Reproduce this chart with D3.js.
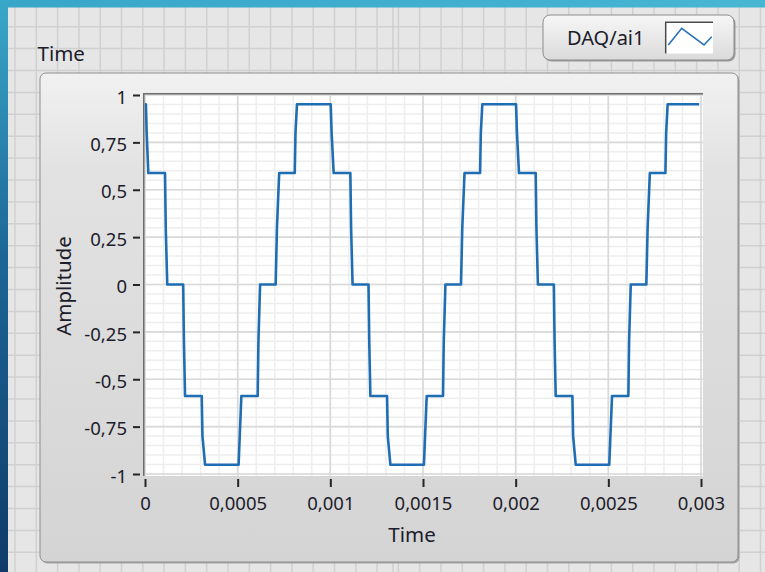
<!DOCTYPE html>
<html>
<head>
<meta charset="utf-8">
<script src="https://cdn.jsdelivr.net/npm/d3@7"></script>
<style>
  body { margin: 0; overflow: hidden; background: #e5e5e5; }
  svg { display: block; }
  text { font-family: "Noto Sans", sans-serif; fill: #1c1c2a; }
</style>
</head>
<body>
<svg width="765" height="572"></svg>
<script>
// waveform (seconds, volts)
const timeS = [
  0, 0.000005, 0.000009, 0.000018, 0.000108, 0.000112, 0.000120, 0.000206, 0.000210, 0.000216,
  0.000306, 0.000310, 0.000324, 0.000505, 0.000512, 0.000520, 0.000608, 0.000612, 0.000621, 0.000705,
  0.000712, 0.000724, 0.000808, 0.000812, 0.000820, 0.001002,
  0.001007, 0.001018, 0.001108, 0.001112, 0.001120, 0.001206, 0.001210, 0.001216, 0.001306, 0.001310,
  0.001324, 0.001505, 0.001512, 0.001520, 0.001608, 0.001612, 0.001621, 0.001705, 0.001712, 0.001724,
  0.001808, 0.001812, 0.001820, 0.002002,
  0.002007, 0.002018, 0.002108, 0.002112, 0.002120, 0.002206, 0.002210, 0.002216, 0.002306, 0.002310,
  0.002324, 0.002505, 0.002512, 0.002520, 0.002608, 0.002612, 0.002621, 0.002705, 0.002712, 0.002724,
  0.002808, 0.002812, 0.002820, 0.002990
];
const amplitude = [
  0.951, 0.951, 0.80, 0.588, 0.588, 0.30, 0, 0, -0.30, -0.588,
  -0.588, -0.80, -0.951, -0.951, -0.78, -0.588, -0.588, -0.30, 0, 0,
  0.30, 0.588, 0.588, 0.80, 0.951, 0.951,
  0.80, 0.588, 0.588, 0.30, 0, 0, -0.30, -0.588, -0.588, -0.80,
  -0.951, -0.951, -0.78, -0.588, -0.588, -0.30, 0, 0, 0.30, 0.588,
  0.588, 0.80, 0.951, 0.951,
  0.80, 0.588, 0.588, 0.30, 0, 0, -0.30, -0.588, -0.588, -0.80,
  -0.951, -0.951, -0.78, -0.588, -0.588, -0.30, 0, 0, 0.30, 0.588,
  0.588, 0.80, 0.951, 0.951
];

const xTicks = [0, 0.0005, 0.001, 0.0015, 0.002, 0.0025, 0.003];
const xTickLabels = ['0', '0,0005', '0,001', '0,0015', '0,002', '0,0025', '0,003'];
const yTicks = [1, 0.75, 0.5, 0.25, 0, -0.25, -0.5, -0.75, -1];
const yTickLabels = ['1', '0,75', '0,5', '0,25', '0', '-0,25', '-0,5', '-0,75', '-1'];

const graphLabel = 'Time';
const xTitle = 'Time';
const yTitle = 'Amplitude';
const plotName = 'DAQ/ai1';

const W = 765, H = 572;
const plot = {l: 143, t: 93, r: 703, b: 476};
const svg = d3.select('svg');
const defs = svg.append('defs');

const x = d3.scaleLinear().domain([0, 0.003]).range([145, 701]);
const y = d3.scaleLinear().domain([-1, 1]).range([474, 95]);

// ---- front panel background
svg.append('rect').attr('width', W).attr('height', H).attr('fill', '#e6e6e6');

const bg = svg.append('g').attr('stroke', '#d0d0d0').attr('stroke-width', 1.5);
d3.range(15, W, 21.3).forEach(px => {
  bg.append('line').attr('x1', px).attr('x2', px).attr('y1', 0).attr('y2', H);
});
d3.range(4.8, H, 21.9).forEach(py => {
  bg.append('line').attr('x1', 0).attr('x2', W).attr('y1', py).attr('y2', py);
});
svg.append('line').attr('x1', 393).attr('x2', 393).attr('y1', 0).attr('y2', H)
  .attr('stroke', '#c4c4c4').attr('stroke-width', 1);

// blue slide border
const gTop = defs.append('linearGradient').attr('id', 'gTop');
gTop.append('stop').attr('offset', 0).attr('stop-color', '#38a6c8');
gTop.append('stop').attr('offset', 1).attr('stop-color', '#47b6d3');
const gLeft = defs.append('linearGradient').attr('id', 'gLeft').attr('x2', 0).attr('y2', 1);
gLeft.append('stop').attr('offset', 0).attr('stop-color', '#3aa8c9');
gLeft.append('stop').attr('offset', 0.45).attr('stop-color', '#1c6696');
gLeft.append('stop').attr('offset', 1).attr('stop-color', '#0f3b68');
svg.append('rect').attr('width', W).attr('height', 7.5).attr('fill', 'url(#gTop)');
svg.append('rect').attr('width', 8).attr('height', H).attr('fill', 'url(#gLeft)');

// ---- graph label
svg.append('text').attr('x', 37.5).attr('y', 60.5).style('font-size', '20.5px').text(graphLabel);

// ---- legend
const gLeg = defs.append('linearGradient').attr('id', 'gLeg').attr('x2', 0).attr('y2', 1);
gLeg.append('stop').attr('offset', 0).attr('stop-color', '#f7f7f7');
gLeg.append('stop').attr('offset', 1).attr('stop-color', '#dadada');
svg.append('rect').attr('x', 544.5).attr('y', 16.5).attr('width', 191).attr('height', 45).attr('rx', 7)
  .attr('fill', '#9a9a9a');
svg.append('rect').attr('x', 543).attr('y', 15).attr('width', 191).attr('height', 45).attr('rx', 7)
  .attr('fill', 'url(#gLeg)').attr('stroke', '#8c8c8c');
svg.append('text').attr('x', 567).attr('y', 45).style('font-size', '20px').text(plotName);
svg.append('rect').attr('x', 665).attr('y', 21.5).attr('width', 48).attr('height', 32).attr('fill', '#fff');
svg.append('path').attr('d', 'M665.7,53.5V22.2H713').attr('fill', 'none')
  .attr('stroke', '#4a4a4a').attr('stroke-width', 1.5);
svg.append('path').attr('d', 'M668.3,45L681.7,28.3L704,45L711.7,36.7').attr('fill', 'none')
  .attr('stroke', '#2a72b8').attr('stroke-width', 1.6);

// ---- graph panel
const gPanel = defs.append('linearGradient').attr('id', 'gPanel').attr('x2', 0).attr('y2', 1);
gPanel.append('stop').attr('offset', 0).attr('stop-color', '#f1f1f1');
gPanel.append('stop').attr('offset', 0.2).attr('stop-color', '#e2e2e2');
gPanel.append('stop').attr('offset', 1).attr('stop-color', '#d4d4d4');
svg.append('rect').attr('x', 41.5).attr('y', 74.5).attr('width', 698).attr('height', 489).attr('rx', 6)
  .attr('fill', '#a6a6a6');
svg.append('rect').attr('x', 40).attr('y', 73).attr('width', 698).attr('height', 489).attr('rx', 6)
  .attr('fill', 'url(#gPanel)').attr('stroke', '#8e8e8e');

// ---- plot area
svg.append('rect').attr('x', plot.l).attr('y', plot.t)
  .attr('width', plot.r - plot.l).attr('height', plot.b - plot.t).attr('fill', '#fff');

const grid = svg.append('g');
grid.selectAll('.minx').data(x.ticks(30)).join('line')
  .attr('x1', d => x(d)).attr('x2', d => x(d)).attr('y1', plot.t).attr('y2', plot.b)
  .attr('stroke', '#eeeeee').attr('stroke-width', 1.5);
grid.selectAll('.miny').data(y.ticks(40)).join('line')
  .attr('y1', d => y(d)).attr('y2', d => y(d)).attr('x1', plot.l).attr('x2', plot.r)
  .attr('stroke', '#eeeeee').attr('stroke-width', 1.5);
grid.selectAll('.majx').data(xTicks).join('line')
  .attr('x1', d => x(d)).attr('x2', d => x(d)).attr('y1', plot.t).attr('y2', plot.b)
  .attr('stroke', '#d9d9d9').attr('stroke-width', 1.6);
grid.selectAll('.majy').data(yTicks).join('line')
  .attr('y1', d => y(d)).attr('y2', d => y(d)).attr('x1', plot.l).attr('x2', plot.r)
  .attr('stroke', '#d9d9d9').attr('stroke-width', 1.6);

// inset border
svg.append('path')
  .attr('d', `M${plot.l + 0.75},${plot.b}V${plot.t + 0.75}H${plot.r}`)
  .attr('fill', 'none').attr('stroke', '#6c6c6c').attr('stroke-width', 1.5);

// ---- trace
defs.append('clipPath').attr('id', 'clip').append('rect')
  .attr('x', plot.l + 1.5).attr('y', plot.t + 1.5)
  .attr('width', plot.r - plot.l - 1.5).attr('height', plot.b - plot.t - 1.5);

const line = d3.line()
  .x((d, i) => x(timeS[i]))
  .y((d, i) => y(amplitude[i]));

svg.append('path')
  .datum(timeS)
  .attr('clip-path', 'url(#clip)')
  .attr('d', line)
  .attr('fill', 'none')
  .attr('stroke', '#1f6db3')
  .attr('stroke-width', 2.6)
  .attr('stroke-linejoin', 'round');

// ---- axes
const xAxis = svg.append('g').attr('transform', 'translate(0,479)')
  .call(d3.axisBottom(x).tickValues(xTicks).tickFormat((d, i) => xTickLabels[i])
    .tickSize(8).tickSizeOuter(0));
xAxis.select('.domain').remove();
xAxis.selectAll('line').attr('stroke', '#262626').attr('stroke-width', 2);
xAxis.selectAll('text').attr('y', 31).attr('dy', null).style('font-size', '18.5px');

const yAxis = svg.append('g').attr('transform', 'translate(140,0)')
  .call(d3.axisLeft(y).tickValues(yTicks).tickFormat((d, i) => yTickLabels[i])
    .tickSize(7).tickPadding(6).tickSizeOuter(0));
yAxis.select('.domain').remove();
yAxis.selectAll('line').attr('stroke', '#262626').attr('stroke-width', 2);
yAxis.selectAll('text').attr('dy', '0.44em').style('font-size', '18.5px');

// axis titles
svg.append('text').attr('x', 412).attr('y', 541.5).attr('text-anchor', 'middle')
  .style('font-size', '20.5px').text(xTitle);
svg.append('text').attr('transform', 'translate(71,286) rotate(-90)').attr('text-anchor', 'middle')
  .style('font-size', '20.5px').text(yTitle);
</script>
</body>
</html>
